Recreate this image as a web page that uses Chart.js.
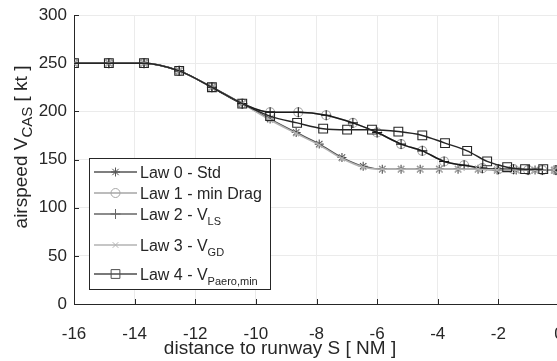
<!DOCTYPE html>
<html>
<head>
<meta charset="utf-8">
<script src="https://cdn.jsdelivr.net/npm/chart.js@4.4.1/dist/chart.umd.min.js"></script>
<style>
  html, body { margin: 0; padding: 0; background: #fff; overflow: hidden; }
  #wrap { width: 565px; height: 361px; }
</style>
</head>
<body>
<div id="wrap"><canvas id="chart" width="565" height="361"></canvas></div>
<script>
// distance to runway [NM] and CAS [kt] at each marker
const law0Dist  = [-16, -14.85, -13.69, -12.53, -11.45, -10.45, -9.53, -8.67, -7.91, -7.16, -6.46, -5.83, -5.21, -4.58, -3.95, -3.33, -2.67, -2.04, -1.41, -0.79, -0.16];
const law0Speed = [250, 250, 250, 242, 225, 208, 192, 178, 166, 152, 143, 140, 140, 140, 140, 140, 140, 139, 139, 139, 139];

const law1Dist  = [-16, -14.85, -13.69, -12.53, -11.45, -10.45, -9.53, -8.60, -7.68, -6.80, -6.00, -5.21, -4.51, -3.79, -3.13, -2.53, -2.00, -1.50, -1.02, -0.55, -0.10];
const law1Speed = [250, 250, 250, 242, 225, 208, 199, 199, 196, 188, 178, 166, 159, 148, 144, 141, 140, 140, 139, 139, 139];

const law2Dist  = [-16, -14.85, -13.69, -12.53, -11.45, -10.45, -9.53, -8.60, -7.68, -6.80, -6.00, -5.21, -4.51, -3.79, -3.13, -2.53, -2.00, -1.50, -1.02, -0.55, -0.10];
const law2Speed = [250, 250, 250, 242, 225, 208, 199, 199, 196, 188, 178, 166, 159, 148, 144, 141, 140, 140, 139, 139, 139];

const law3Dist  = [-16, -14.85, -13.69, -12.53, -11.45, -10.45, -9.53, -8.67, -7.91, -7.16, -6.46, -5.83, -5.21, -4.58, -3.95, -3.33, -2.67, -2.04, -1.41, -0.79, -0.16];
const law3Speed = [250, 250, 250, 242, 225, 208, 191, 177, 165, 151, 142, 140, 140, 140, 140, 140, 140, 139, 139, 139, 139];

const law4Dist  = [-16, -14.85, -13.69, -12.53, -11.45, -10.45, -9.53, -8.64, -7.78, -6.99, -6.17, -5.30, -4.51, -3.76, -3.03, -2.37, -1.71, -1.12, -0.52];
const law4Speed = [250, 250, 250, 242, 225, 208, 195, 188, 182, 181, 181, 179, 175, 167, 159, 148, 142, 140, 140];

const xTicks = [-16, -14, -12, -10, -8, -6, -4, -2, 0];
const yTicks = [0, 50, 100, 150, 200, 250, 300];

const FONT = "'Liberation Sans', Arial, sans-serif";
const AXIS = '#262626';

const laws = [
  { label: 'Law 0 - Std', sub: '', dist: law0Dist, speed: law0Speed, color: '#4d4d4d', legendColor: '#555555', style: 'star', r: 4.5 },
  { label: 'Law 1 - min Drag', sub: '', dist: law1Dist, speed: law1Speed, color: '#a6a6a6', legendColor: '#a6a6a6', style: 'circle', r: 4.5 },
  { label: 'Law 2 - V', sub: 'LS', dist: law2Dist, speed: law2Speed, color: '#1a1a1a', legendColor: '#666666', style: 'cross', r: 5 },
  { label: 'Law 3 - V', sub: 'GD', dist: law3Dist, speed: law3Speed, color: '#b3b3b3', legendColor: '#b3b3b3', style: 'crossRot', r: 4 },
  { label: 'Law 4 - V', sub: 'Paero,min', dist: law4Dist, speed: law4Speed, color: '#262626', legendColor: '#4d4d4d', style: 'rect', r: 6.2 }
];
const legendRows = [172, 193, 214, 245, 274];

function marker(ctx, style, x, y, r) {
  ctx.beginPath();
  if (style === 'circle') {
    ctx.arc(x, y, r, 0, Math.PI * 2);
  } else if (style === 'rect') {
    const s = r * Math.SQRT1_2;
    ctx.rect(x - s, y - s, 2 * s, 2 * s);
  } else {
    if (style === 'cross' || style === 'star') {
      ctx.moveTo(x - r, y); ctx.lineTo(x + r, y);
      ctx.moveTo(x, y - r); ctx.lineTo(x, y + r);
    }
    if (style === 'crossRot' || style === 'star') {
      const d = r * Math.SQRT1_2;
      ctx.moveTo(x - d, y - d); ctx.lineTo(x + d, y + d);
      ctx.moveTo(x - d, y + d); ctx.lineTo(x + d, y - d);
    }
  }
  ctx.stroke();
}

// no automatic padding from tick labels: the plot box is placed by hand
function noPad(s) {
  s.paddingTop = 0; s.paddingBottom = 0; s.paddingLeft = 0; s.paddingRight = 0;
}

const decorations = {
  id: 'decorations',
  afterDraw(chart) {
    const { ctx, chartArea: a, scales } = chart;
    ctx.save();
    // inward tick marks
    ctx.strokeStyle = AXIS;
    ctx.lineWidth = 1;
    ctx.beginPath();
    xTicks.forEach(t => {
      const px = Math.round(scales.x.getPixelForValue(t)) + 0.5;
      ctx.moveTo(px, a.bottom); ctx.lineTo(px, a.bottom - 5);
    });
    yTicks.forEach(t => {
      const py = Math.round(scales.y.getPixelForValue(t)) + 0.5;
      ctx.moveTo(a.left, py); ctx.lineTo(a.left + 5, py);
    });
    ctx.stroke();

    // x title
    ctx.fillStyle = AXIS;
    ctx.font = '19px ' + FONT;
    ctx.textAlign = 'center';
    ctx.textBaseline = 'alphabetic';
    ctx.fillText('distance to runway S [ NM ]', 280, 354);

    // y title with subscript
    ctx.save();
    ctx.translate(27, 147);
    ctx.rotate(-Math.PI / 2);
    ctx.textAlign = 'left';
    ctx.font = '19px ' + FONT;
    const p1 = 'airspeed V', p3 = ' [ kt ]';
    const w1 = ctx.measureText(p1).width, w3 = ctx.measureText(p3).width;
    ctx.font = '15px ' + FONT;
    const w2 = ctx.measureText('CAS').width;
    const x0 = -(w1 + w2 + w3) / 2;
    ctx.font = '19px ' + FONT;
    ctx.fillText(p1, x0, 0);
    ctx.font = '15px ' + FONT;
    ctx.fillText('CAS', x0 + w1, 5);
    ctx.font = '19px ' + FONT;
    ctx.fillText(p3, x0 + w1 + w2, 0);
    ctx.restore();

    // legend box
    ctx.fillStyle = '#ffffff';
    ctx.fillRect(89, 158, 181, 131);
    ctx.strokeStyle = AXIS;
    ctx.strokeRect(89.5, 158.5, 181, 131);
    laws.forEach((law, i) => {
      const y = legendRows[i];
      ctx.strokeStyle = law.legendColor;
      ctx.lineWidth = 1.3;
      ctx.beginPath();
      ctx.moveTo(94, y); ctx.lineTo(137, y);
      ctx.stroke();
      ctx.lineWidth = 1;
      marker(ctx, law.style, 115.5, y, law.r);
      ctx.fillStyle = AXIS;
      ctx.font = '16px ' + FONT;
      ctx.textAlign = 'left';
      ctx.textBaseline = 'alphabetic';
      ctx.fillText(law.label, 140, y + 6);
      if (law.sub) {
        const w = ctx.measureText(law.label).width;
        ctx.font = '11px ' + FONT;
        ctx.fillText(law.sub, 140 + w, y + 11);
      }
    });
    ctx.restore();
  }
};

new Chart(document.getElementById('chart'), {
  type: 'scatter',
  data: {
    datasets: laws.map((law, i) => ({
      label: law.label + law.sub,
      data: law.dist.map((d, k) => ({ x: d, y: law.speed[k] })),
      showLine: true,
      cubicInterpolationMode: 'monotone',
      borderColor: law.color,
      borderWidth: 1.5,
      pointStyle: law.style,
      pointRadius: law.r,
      pointBorderColor: law.color,
      pointBackgroundColor: 'rgba(0,0,0,0)',
      pointBorderWidth: 1.1,
      order: 5 - i
    }))
  },
  options: {
    responsive: false,
    animation: false,
    layout: { autoPadding: false, padding: { left: 0, top: 15, right: 6, bottom: 0 } },
    plugins: { legend: { display: false }, tooltip: { enabled: false } },
    scales: {
      x: {
        type: 'linear',
        min: -16, max: 0,
        afterFit: s => { s.height = 57; noPad(s); },
        afterBuildTicks: s => { s.ticks = xTicks.map(v => ({ value: v })); },
        grid: { color: '#ebebeb', drawTicks: false },
        border: { color: AXIS },
        ticks: { color: AXIS, padding: 20, font: { family: FONT, size: 17 }, maxRotation: 0 }
      },
      y: {
        min: 0, max: 300,
        afterFit: s => { s.width = 74; noPad(s); },
        afterBuildTicks: s => { s.ticks = yTicks.map(v => ({ value: v })); },
        grid: { color: '#ebebeb', drawTicks: false },
        border: { color: AXIS },
        ticks: { color: AXIS, padding: 7, font: { family: FONT, size: 17 } }
      }
    }
  },
  plugins: [decorations]
});
</script>
</body>
</html>
